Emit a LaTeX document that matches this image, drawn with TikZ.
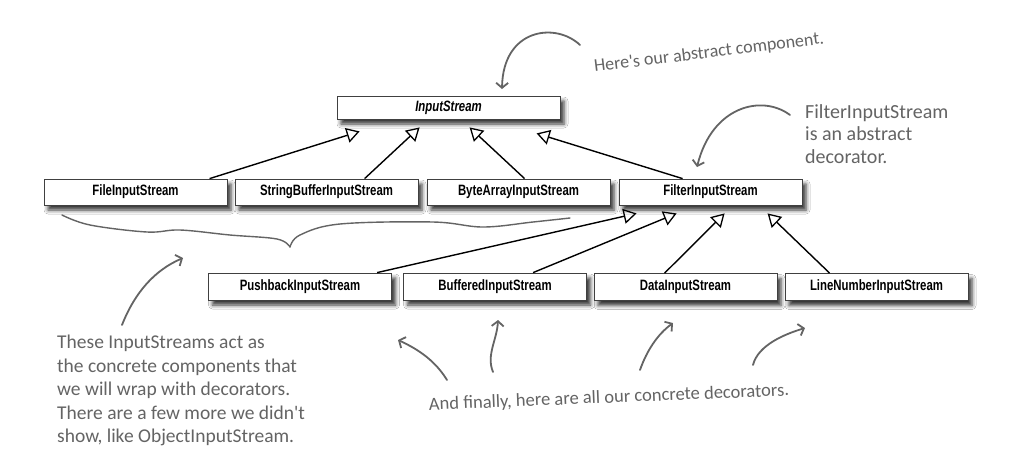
\documentclass[tikz,border=0pt]{standalone}
\usepackage{fontspec}
\setmainfont{Liberation Sans}
\newfontface\boxfont[FakeStretch=0.76]{Liberation Sans Bold}
\newfontface\boxfontit[FakeStretch=0.76]{Liberation Sans Bold Italic}
\newfontfamily\handfont{Carlito}
\usetikzlibrary{arrows.meta,shadows.blur,calc}
\definecolor{hgray}{HTML}{646464}
\tikzset{
  cls/.style={draw=black!75, line width=0.8pt, fill=white, minimum width=183pt,
    minimum height=26pt, inner sep=0pt, font=\boxfont\fontsize{15}{17}\selectfont,
    blur shadow={shadow xshift=4pt, shadow yshift=-5pt, shadow blur radius=4pt, shadow opacity=80}},
  inh/.style={draw=black, line width=1.4pt,
    -{Triangle[open, length=13pt, width=15pt, line width=1.3pt]}},
  hand/.style={draw=hgray, line width=1.8pt, line cap=round,
    -{Straight Barb[length=5pt, width=12pt, line width=1.8pt]}},
  note/.style={text=hgray, inner sep=0pt, font=\handfont\fontsize{19.5}{23.5}\selectfont, align=left},
  brace/.style={draw=hgray, line width=1.4pt, line cap=round}
}
\begin{document}
\begin{tikzpicture}[x=1pt,y=-1pt]
\fill[white] (0,0) rectangle (1018,467);
\useasboundingbox (0,0) rectangle (1018,467);

% class boxes
\node[cls, minimum width=223pt, minimum height=23pt, font=\boxfontit\fontsize{15}{17}\selectfont] (is) at (448.5,107.5) {InputStream};
\node[cls] (fis)  at (135.5,192) {FileInputStream};
\node[cls] (sbis) at (326.5,192) {StringBufferInputStream};
\node[cls] (bais) at (518.5,192) {ByteArrayInputStream};
\node[cls] (filt) at (710.5,192) {FilterInputStream};
\node[cls, minimum height=27pt] (pb)   at (300,286.5) {PushbackInputStream};
\node[cls, minimum height=27pt] (buf)  at (495,286.5) {BufferedInputStream};
\node[cls, minimum height=27pt] (data) at (685.5,287) {DataInputStream};
\node[cls, minimum height=27pt] (ln)   at (876.5,287) {LineNumberInputStream};

% inheritance connectors
\draw[inh] ($(fis.north west)+(166,0)$)  -- ($(is.south west)+(23,12)$);
\draw[inh] ($(sbis.north west)+(130,0)$) -- ($(is.south west)+(83,8)$);
\draw[inh] ($(bais.north west)+(98,0)$)  -- ($(is.south west)+(133,8)$);
\draw[inh] ($(filt.north west)+(64,0)$)  -- ($(is.south west)+(200,14)$);

\draw[inh] ($(pb.north west)+(169,0)$)   -- ($(filt.south west)+(18,8)$);
\draw[inh] ($(buf.north west)+(130,0)$)  -- ($(filt.south west)+(58,8)$);
\draw[inh] ($(data.north west)+(71,0)$)  -- ($(filt.south west)+(106,8)$);
\draw[inh] ($(ln.north west)+(45,0)$)    -- ($(filt.south west)+(149,8)$);

% annotations
\node[note, rotate=7, font=\handfont\fontsize{18}{22}\selectfont] (n1) at (709,53) {Here's our abstract component.};
\coordinate (n1s) at (580,45);
\coordinate (n1e) at (502,89);
\draw[hand] (n1s) .. controls (556,22) and (503,28) .. (n1e);

\node[note, anchor=north west, font=\handfont\fontsize{20}{22.5}\selectfont] (n2) at (805,104) {FilterInputStream\\is an abstract\\decorator.};
\coordinate (n2s) at (790,115);
\coordinate (n2e) at (697,167);
\draw[hand] (n2s) .. controls (762,94) and (712,106) .. (n2e);

% brace
\coordinate (bl) at (62,215);
\coordinate (bp) at (290,247);
\coordinate (br) at (570,218);
\draw[brace] plot[smooth, tension=0.6] coordinates {(bl) (90,225) (147,232) (180,230) (230,235) (277,239) (bp)};
\draw[brace] plot[smooth, tension=0.6] coordinates {(bp) (300,235) (340,224) (433,222) (483,227) (533,222) (br)};

\node[note, anchor=north west] (n3) at (57,335) {These InputStreams act as\\the concrete components that\\we will wrap with decorators.\\There are a few more we didn't\\show, like ObjectInputStream.};
\coordinate (n3s) at (122,325);
\coordinate (n3e) at (183,258);
\draw[hand] (n3s) .. controls (135,292) and (155,270) .. (n3e);

\node[note, rotate=2.3, font=\handfont\fontsize{18.5}{22}\selectfont] (n4) at (609,398) {And finally, here are all our concrete decorators.};
\coordinate (a1) at (447,380); \coordinate (a1e) at (398,340);
\coordinate (a2) at (493,372); \coordinate (a2e) at (498,320);
\coordinate (a3) at (640,370); \coordinate (a3e) at (673,323);
\coordinate (a4) at (753,365); \coordinate (a4e) at (805,328);
\draw[hand] (a1) .. controls (436,362) and (420,350) .. (a1e);
\draw[hand] (a2) .. controls (486,355) and (497,340) .. (a2e);
\draw[hand] (a3) .. controls (647,350) and (658,334) .. (a3e);
\draw[hand] (a4) .. controls (758,345) and (785,334) .. (a4e);
\end{tikzpicture}
\end{document}
